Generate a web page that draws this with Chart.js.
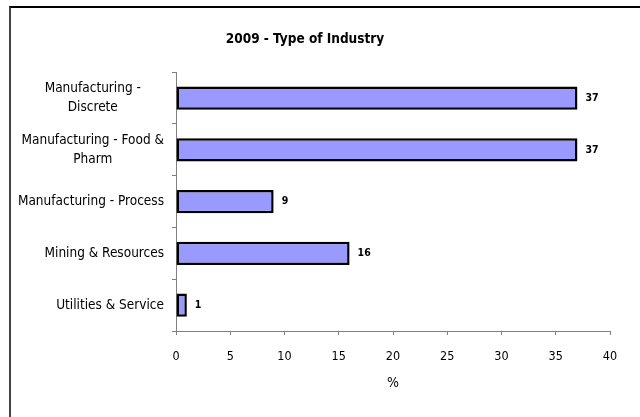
<!DOCTYPE html>
<html>
<head>
<meta charset="utf-8">
<script src="https://cdn.jsdelivr.net/npm/chart.js@4/dist/chart.umd.min.js"></script>
<style>
  html, body { margin: 0; padding: 0; background: #fff; }
  #wrap { position: relative; width: 640px; height: 417px; }
  #frame { position: absolute; left: 9px; top: 6px; right: 0; bottom: 0;
           border-left: 2px solid #444; border-top: 2px solid #000; pointer-events: none; }
</style>
</head>
<body>
<div id="wrap">
  <canvas id="industryChart" width="640" height="417"></canvas>
  <div id="frame"></div>
</div>
<script>
const categories = [
  ['Manufacturing -', 'Discrete'],
  ['Manufacturing - Food &', 'Pharm'],
  'Manufacturing - Process',
  'Mining & Resources',
  'Utilities & Service'
];
const shares = [37, 37, 9, 16, 1];
const xTicks = [0, 5, 10, 15, 20, 25, 30, 35, 40];

const FONT = "'Liberation Sans Narrow', 'Arial Narrow', 'DejaVu Sans Condensed', Arial, sans-serif";

// category labels: wrapped labels are centred inside a common wrap width, right aligned to the axis
const categoryLabels = {
  id: 'categoryLabels',
  afterDraw(chart) {
    const { ctx, scales: { y } } = chart;
    ctx.save();
    ctx.font = '13.5px ' + FONT;
    ctx.fillStyle = '#000';
    ctx.textBaseline = 'middle';
    ctx.textAlign = 'center';
    const right = y.right - 12;
    let wrapW = 0;
    categories.forEach(c => {
      if (Array.isArray(c)) c.forEach(l => wrapW = Math.max(wrapW, ctx.measureText(l).width));
    });
    const lh = 19;
    categories.forEach((c, i) => {
      const cy = y.getPixelForValue(i);
      const lines = Array.isArray(c) ? c : [c];
      const w = Array.isArray(c) ? wrapW : ctx.measureText(c).width;
      const cx = right - w / 2;
      lines.forEach((l, k) => {
        ctx.fillText(l, cx, cy + (k - (lines.length - 1) / 2) * lh);
      });
    });
    ctx.restore();
  }
};

// value labels at the end of each bar
const valueLabels = {
  id: 'valueLabels',
  afterDatasetsDraw(chart) {
    const { ctx } = chart;
    const meta = chart.getDatasetMeta(0);
    ctx.save();
    ctx.font = 'bold 10.5px ' + FONT;
    ctx.fillStyle = '#000';
    ctx.textAlign = 'left';
    ctx.textBaseline = 'middle';
    meta.data.forEach((bar, i) => {
      ctx.fillText(String(shares[i]), bar.x + 8, bar.y);
    });
    ctx.restore();
  }
};

new Chart(document.getElementById('industryChart').getContext('2d'), {
  type: 'bar',
  data: {
    labels: categories,
    datasets: [{
      data: shares,
      backgroundColor: '#9999ff',
      borderColor: '#000',
      borderWidth: 2.5,
      borderSkipped: false,
      barPercentage: 0.9,
      categoryPercentage: 0.5
    }]
  },
  options: {
    indexAxis: 'y',
    responsive: false,
    animation: false,
    layout: { padding: { top: 22, right: 30, left: 0, bottom: 25 } },
    plugins: {
      legend: { display: false },
      tooltip: { enabled: false },
      title: {
        display: true,
        text: '2009 - Type of Industry',
        color: '#000',
        font: { family: FONT, size: 13.5, weight: 'bold' },
        padding: { top: 9, bottom: 25 }
      }
    },
    scales: {
      x: {
        min: 0,
        max: 40,
        afterBuildTicks: scale => { scale.ticks = xTicks.map(v => ({ value: v })); },
        afterFit: scale => { scale.height = 61; },
        grid: { drawOnChartArea: false, drawTicks: true, tickLength: 4, color: '#808080' },
        border: { color: '#808080', width: 1 },
        ticks: { color: '#000', padding: 14, maxRotation: 0, font: { family: FONT, size: 12.5 } },
        title: { display: true, text: '%', color: '#000', padding: { top: 6, bottom: 0 }, font: { family: FONT, size: 14 } }
      },
      y: {
        afterFit: scale => { scale.width = 176; },
        grid: { drawOnChartArea: false, drawTicks: true, tickLength: 4, color: '#808080', offset: true },
        border: { color: '#808080', width: 1 },
        ticks: { display: false }
      }
    }
  },
  plugins: [categoryLabels, valueLabels]
});
</script>
</body>
</html>
